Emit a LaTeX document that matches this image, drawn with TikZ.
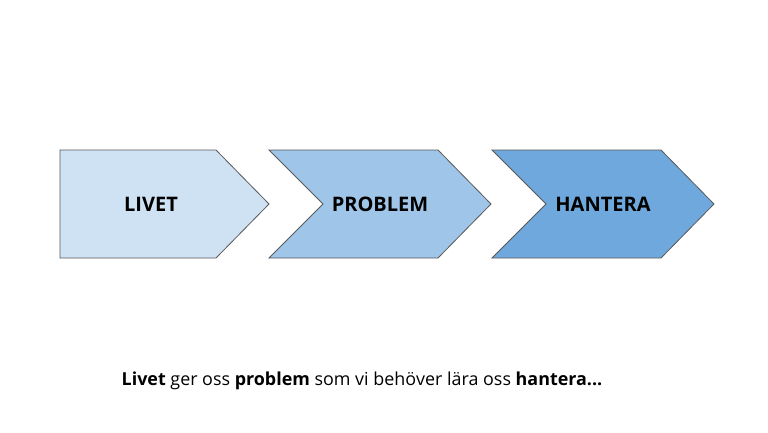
\documentclass[tikz,border=0pt]{standalone}
\usepackage{fontspec}
\setmainfont{Open Sans}
\definecolor{c1}{HTML}{CFE2F3}
\definecolor{c2}{HTML}{9FC5E8}
\definecolor{c3}{HTML}{6FA8DC}
\definecolor{edge}{HTML}{595959}
\begin{document}
\begin{tikzpicture}[x=1pt,y=-1pt,
  chev/.style={draw=edge,line width=0.8pt,line join=miter},
  lbl/.style={font=\fontsize{20}{23}\selectfont\bfseries,text=black},
  captext/.style={font=\fontsize{17.9}{21}\selectfont,text=black}]
\useasboundingbox (0,0) rectangle (768,432);
\fill[white] (0,0) rectangle (768,432);
\draw[chev,fill=c1] (60,150) -- (216,150) -- (269,204) -- (216,258) -- (60,258) -- cycle;
\draw[chev,fill=c2] (269,150) -- (438,150) -- (491,204) -- (438,258) -- (269,258) -- (323,204) -- cycle;
\draw[chev,fill=c3] (492,150) -- (661,150) -- (714,204) -- (661,258) -- (492,258) -- (546,204) -- cycle;
\node[lbl] (livet) at (151,204) {LIVET};
\node[lbl] (problem) at (380,204) {PROBLEM};
\node[lbl] (hantera) at (603,204) {HANTERA};
\node[captext] (caption) at (362,381) {\textbf{Livet} ger oss \textbf{problem} som vi behöver lära oss \textbf{hantera...}};
\end{tikzpicture}
\end{document}
